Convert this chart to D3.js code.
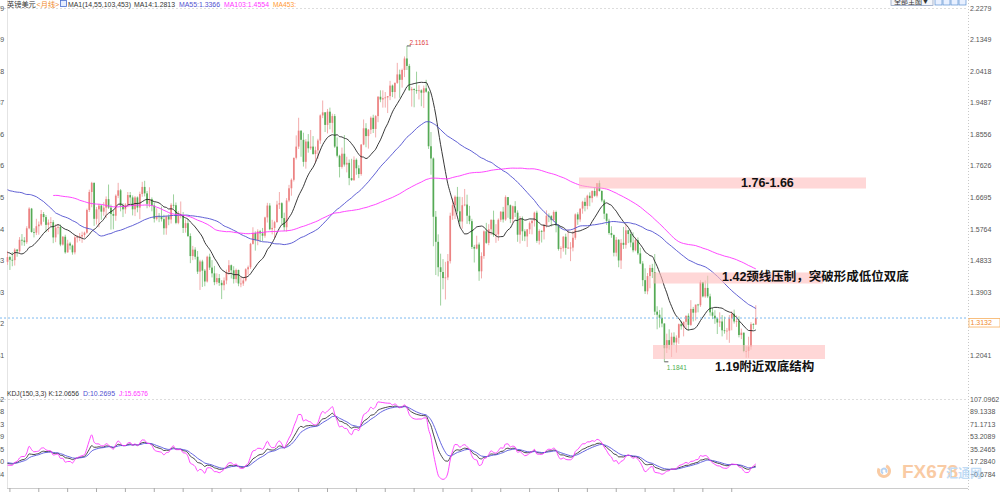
<!DOCTYPE html>
<html><head><meta charset="utf-8">
<script src="https://cdn.jsdelivr.net/npm/d3@7"></script>
<style>body{margin:0;background:#fff;}svg{display:block;}</style>
</head><body>
<svg id="c" width="1000" height="492"></svg>
<script>
// ---------- DATA (GBP/USD monthly, Jan 1994 - Dec 2019) ----------
const years = [1994,1995,1996,1997,1998,1999,2000,2001,2002,2003,2004,2005,2006,2007,2008,2009,2010,2011,2012,2013,2014,2015,2016,2017,2018,2019];
const opens = [
1.479,1.493,1.485,1.484,1.515,1.510,1.544,1.542,1.537,1.578,1.636,1.567,
1.565,1.584,1.589,1.620,1.611,1.588,1.595,1.596,1.551,1.580,1.582,1.530,
1.553,1.507,1.533,1.527,1.507,1.551,1.552,1.554,1.558,1.565,1.632,1.685,
1.712,1.606,1.634,1.645,1.627,1.639,1.664,1.639,1.620,1.615,1.674,1.690,
1.645,1.634,1.648,1.676,1.669,1.634,1.669,1.639,1.679,1.700,1.681,1.650,
1.664,1.645,1.606,1.613,1.612,1.605,1.578,1.613,1.604,1.647,1.646,1.594,
1.615,1.616,1.579,1.593,1.555,1.496,1.515,1.494,1.450,1.480,1.453,1.421,
1.494,1.462,1.445,1.419,1.431,1.417,1.410,1.424,1.449,1.469,1.454,1.428,
1.455,1.415,1.415,1.424,1.457,1.463,1.532,1.564,1.543,1.569,1.563,1.556,
1.610,1.645,1.575,1.579,1.596,1.648,1.652,1.608,1.581,1.660,1.696,1.721,
1.786,1.819,1.866,1.839,1.774,1.834,1.814,1.819,1.797,1.808,1.837,1.911,
1.920,1.883,1.922,1.889,1.909,1.819,1.792,1.759,1.798,1.766,1.771,1.726,
1.720,1.780,1.755,1.738,1.825,1.873,1.850,1.869,1.904,1.871,1.909,1.966,
1.958,1.962,1.964,1.968,1.999,1.980,2.007,2.032,2.016,2.045,2.079,2.057,
1.985,1.989,1.986,1.984,1.985,1.978,1.991,1.981,1.820,1.784,1.612,1.538,
1.463,1.449,1.431,1.433,1.481,1.615,1.646,1.671,1.628,1.598,1.646,1.648,
1.615,1.599,1.523,1.518,1.530,1.451,1.496,1.569,1.535,1.575,1.603,1.558,
1.560,1.603,1.627,1.604,1.670,1.646,1.605,1.643,1.624,1.559,1.607,1.569,
1.554,1.575,1.593,1.600,1.624,1.541,1.570,1.568,1.588,1.615,1.614,1.602,
1.626,1.586,1.517,1.519,1.553,1.520,1.521,1.521,1.550,1.619,1.604,1.636,
1.656,1.644,1.674,1.667,1.688,1.674,1.711,1.688,1.660,1.621,1.600,1.564,
1.558,1.506,1.544,1.483,1.535,1.529,1.572,1.561,1.536,1.513,1.543,1.504,
1.474,1.425,1.392,1.437,1.461,1.449,1.332,1.323,1.314,1.297,1.224,1.248,
1.234,1.258,1.241,1.255,1.295,1.289,1.302,1.320,1.293,1.340,1.329,1.353,
1.351,1.419,1.377,1.402,1.377,1.330,1.320,1.312,1.300,1.303,1.277,1.275,
1.276,1.312,1.326,1.303,1.304,1.263,1.270,1.216,1.216,1.229,1.295,1.294];
const highs = [
1.511,1.497,1.508,1.519,1.517,1.552,1.561,1.552,1.584,1.640,1.638,1.578,
1.606,1.598,1.632,1.626,1.617,1.604,1.611,1.602,1.590,1.590,1.589,1.555,
1.559,1.544,1.538,1.530,1.557,1.558,1.564,1.568,1.568,1.636,1.692,1.715,
1.713,1.641,1.650,1.647,1.655,1.672,1.707,1.648,1.632,1.678,1.712,1.694,
1.652,1.652,1.685,1.685,1.675,1.673,1.672,1.686,1.715,1.718,1.688,1.699,
1.669,1.654,1.637,1.623,1.642,1.618,1.615,1.619,1.652,1.678,1.654,1.629,
1.657,1.626,1.604,1.605,1.563,1.526,1.522,1.511,1.485,1.485,1.458,1.497,
1.503,1.484,1.467,1.445,1.443,1.425,1.433,1.456,1.484,1.471,1.466,1.459,
1.456,1.434,1.434,1.460,1.468,1.535,1.581,1.569,1.575,1.573,1.579,1.612,
1.653,1.652,1.603,1.600,1.659,1.685,1.655,1.624,1.667,1.706,1.725,1.786,
1.852,1.904,1.867,1.860,1.841,1.856,1.868,1.850,1.819,1.842,1.914,1.955,
1.921,1.930,1.934,1.916,1.915,1.846,1.795,1.816,1.853,1.789,1.781,1.783,
1.790,1.784,1.764,1.826,1.899,1.888,1.871,1.908,1.913,1.912,1.968,1.985,
1.985,1.980,1.968,2.013,2.002,2.008,2.066,2.046,2.049,2.085,2.116,2.063,
1.995,1.991,2.040,2.000,1.988,1.999,2.016,1.983,1.862,1.787,1.629,1.560,
1.503,1.487,1.479,1.502,1.624,1.666,1.675,1.700,1.671,1.670,1.694,1.677,
1.644,1.606,1.529,1.556,1.536,1.507,1.572,1.594,1.590,1.604,1.630,1.590,
1.607,1.628,1.641,1.675,1.670,1.648,1.645,1.658,1.631,1.614,1.613,1.575,
1.575,1.598,1.603,1.627,1.630,1.575,1.573,1.590,1.631,1.622,1.617,1.631,
1.630,1.590,1.525,1.555,1.562,1.575,1.537,1.570,1.622,1.625,1.636,1.659,
1.668,1.677,1.684,1.690,1.700,1.711,1.719,1.690,1.664,1.622,1.606,1.584,
1.560,1.552,1.546,1.546,1.582,1.590,1.574,1.574,1.566,1.551,1.551,1.521,
1.481,1.460,1.446,1.470,1.473,1.502,1.348,1.337,1.344,1.298,1.267,1.280,
1.270,1.271,1.262,1.297,1.305,1.303,1.320,1.327,1.366,1.346,1.352,1.355,
1.425,1.420,1.424,1.438,1.385,1.343,1.336,1.314,1.330,1.322,1.317,1.284,
1.322,1.333,1.338,1.321,1.318,1.282,1.270,1.230,1.258,1.301,1.298,1.351];
const lows = [
1.470,1.455,1.466,1.468,1.494,1.505,1.527,1.526,1.532,1.575,1.565,1.551,
1.558,1.559,1.585,1.597,1.566,1.567,1.584,1.534,1.537,1.560,1.525,1.527,
1.503,1.506,1.515,1.500,1.501,1.536,1.540,1.535,1.550,1.562,1.626,1.640,
1.585,1.589,1.581,1.603,1.615,1.608,1.635,1.574,1.575,1.600,1.667,1.628,
1.611,1.621,1.640,1.652,1.616,1.614,1.625,1.605,1.671,1.672,1.637,1.640,
1.628,1.595,1.601,1.596,1.598,1.559,1.559,1.587,1.592,1.636,1.590,1.590,
1.607,1.564,1.565,1.552,1.475,1.484,1.486,1.443,1.396,1.405,1.407,1.418,
1.455,1.433,1.410,1.413,1.408,1.369,1.395,1.413,1.440,1.430,1.415,1.417,
1.407,1.404,1.408,1.421,1.441,1.458,1.530,1.512,1.528,1.537,1.540,1.550,
1.595,1.572,1.560,1.548,1.595,1.635,1.589,1.570,1.568,1.655,1.674,1.716,
1.781,1.812,1.789,1.760,1.754,1.801,1.809,1.795,1.770,1.783,1.827,1.903,
1.862,1.858,1.870,1.860,1.815,1.787,1.728,1.754,1.760,1.743,1.705,1.718,
1.718,1.736,1.726,1.733,1.823,1.817,1.813,1.856,1.859,1.846,1.891,1.950,
1.934,1.934,1.918,1.956,1.965,1.961,2.004,1.963,1.993,2.024,2.045,1.984,
1.937,1.935,1.975,1.958,1.938,1.933,1.978,1.812,1.736,1.525,1.440,1.436,
1.350,1.398,1.368,1.425,1.474,1.603,1.605,1.621,1.583,1.577,1.643,1.591,
1.590,1.517,1.477,1.516,1.423,1.430,1.488,1.532,1.528,1.558,1.553,1.535,
1.541,1.597,1.595,1.600,1.609,1.593,1.594,1.611,1.538,1.533,1.541,1.540,
1.523,1.561,1.560,1.583,1.535,1.530,1.536,1.545,1.580,1.596,1.583,1.598,
1.566,1.512,1.489,1.509,1.500,1.517,1.481,1.510,1.544,1.588,1.597,1.621,
1.628,1.634,1.643,1.654,1.671,1.669,1.686,1.655,1.605,1.588,1.559,1.550,
1.495,1.495,1.463,1.458,1.517,1.518,1.534,1.522,1.507,1.510,1.499,1.472,
1.407,1.384,1.383,1.401,1.431,1.322,1.280,1.285,1.286,1.184,1.210,1.220,
1.198,1.233,1.211,1.237,1.279,1.259,1.281,1.276,1.290,1.303,1.306,1.330,
1.346,1.374,1.373,1.372,1.320,1.310,1.296,1.266,1.287,1.259,1.267,1.249,
1.240,1.277,1.297,1.287,1.256,1.251,1.212,1.196,1.196,1.220,1.280,1.293];
const closes = [
1.493,1.485,1.484,1.515,1.510,1.544,1.542,1.537,1.578,1.636,1.567,1.565,
1.584,1.589,1.620,1.611,1.588,1.595,1.596,1.551,1.580,1.582,1.530,1.553,
1.507,1.533,1.527,1.507,1.551,1.552,1.554,1.558,1.565,1.632,1.685,1.712,
1.606,1.634,1.645,1.627,1.639,1.664,1.639,1.620,1.615,1.674,1.690,1.645,
1.634,1.648,1.676,1.669,1.634,1.669,1.639,1.679,1.700,1.681,1.650,1.664,
1.645,1.606,1.613,1.612,1.605,1.578,1.613,1.604,1.647,1.646,1.594,1.615,
1.616,1.579,1.593,1.555,1.496,1.515,1.494,1.450,1.480,1.453,1.421,1.494,
1.462,1.445,1.419,1.431,1.417,1.410,1.424,1.449,1.469,1.454,1.428,1.455,
1.415,1.415,1.424,1.457,1.463,1.532,1.564,1.543,1.569,1.563,1.556,1.610,
1.645,1.575,1.579,1.596,1.648,1.652,1.608,1.581,1.660,1.696,1.721,1.786,
1.819,1.866,1.839,1.774,1.834,1.814,1.819,1.797,1.808,1.837,1.911,1.920,
1.883,1.922,1.889,1.909,1.819,1.792,1.759,1.798,1.766,1.771,1.726,1.720,
1.780,1.755,1.738,1.825,1.873,1.850,1.869,1.904,1.871,1.909,1.966,1.958,
1.962,1.964,1.968,1.999,1.980,2.007,2.032,2.016,2.045,2.079,2.057,1.985,
1.989,1.986,1.984,1.985,1.978,1.991,1.981,1.820,1.784,1.612,1.538,1.463,
1.449,1.431,1.433,1.481,1.615,1.646,1.671,1.628,1.598,1.646,1.648,1.615,
1.599,1.523,1.518,1.530,1.451,1.496,1.569,1.535,1.575,1.603,1.558,1.560,
1.603,1.627,1.604,1.670,1.646,1.605,1.643,1.624,1.559,1.607,1.569,1.554,
1.575,1.593,1.600,1.624,1.541,1.570,1.568,1.588,1.615,1.614,1.602,1.626,
1.586,1.517,1.519,1.553,1.520,1.521,1.521,1.550,1.619,1.604,1.636,1.656,
1.644,1.674,1.667,1.688,1.674,1.711,1.688,1.660,1.621,1.600,1.564,1.558,
1.506,1.544,1.483,1.535,1.529,1.572,1.561,1.536,1.513,1.543,1.504,1.474,
1.425,1.392,1.437,1.461,1.449,1.332,1.323,1.314,1.297,1.224,1.248,1.234,
1.258,1.241,1.255,1.295,1.289,1.302,1.320,1.293,1.340,1.329,1.353,1.351,
1.419,1.377,1.402,1.377,1.330,1.320,1.312,1.300,1.303,1.277,1.275,1.276,
1.312,1.326,1.303,1.304,1.263,1.270,1.216,1.216,1.229,1.295,1.294,1.313];
// history before the visible window (Feb 1987 - Dec 1993), used by MA / KDJ
const preHighs = [
1.545,1.615,1.680,1.690,1.665,1.643,1.648,1.660,1.760,1.820,1.890,
1.885,1.790,1.885,1.895,1.890,1.850,1.735,1.740,1.715,1.775,1.850,1.860,
1.815,1.775,1.760,1.720,1.700,1.600,1.680,1.665,1.625,1.615,1.590,1.620,
1.700,1.720,1.710,1.660,1.705,1.745,1.855,1.940,1.915,1.960,1.965,1.950,
1.980,2.010,1.975,1.790,1.760,1.740,1.695,1.735,1.760,1.755,1.785,1.875,
1.870,1.800,1.770,1.785,1.835,1.905,1.925,2.000,2.010,1.780,1.590,1.565,
1.570,1.545,1.520,1.590,1.590,1.565,1.535,1.515,1.555,1.530,1.505,1.500];
const preLows = [
1.505,1.535,1.600,1.635,1.600,1.585,1.590,1.610,1.625,1.735,1.780,
1.755,1.740,1.765,1.855,1.830,1.695,1.690,1.665,1.655,1.685,1.765,1.800,
1.735,1.725,1.685,1.680,1.545,1.510,1.550,1.535,1.540,1.545,1.550,1.555,
1.600,1.665,1.575,1.620,1.635,1.690,1.735,1.840,1.845,1.865,1.920,1.900,
1.920,1.930,1.740,1.720,1.710,1.610,1.600,1.660,1.700,1.690,1.715,1.775,
1.775,1.735,1.700,1.720,1.775,1.820,1.885,1.910,1.720,1.570,1.500,1.510,
1.500,1.405,1.420,1.500,1.520,1.480,1.470,1.460,1.495,1.475,1.470,1.470];
const preCloses = [
1.540,1.608,1.672,1.660,1.608,1.600,1.643,1.650,1.750,1.800,1.880,
1.780,1.770,1.880,1.880,1.840,1.710,1.710,1.680,1.690,1.770,1.840,1.810,
1.750,1.740,1.690,1.690,1.550,1.555,1.660,1.550,1.610,1.570,1.570,1.610,
1.695,1.700,1.640,1.640,1.700,1.740,1.850,1.890,1.870,1.950,1.940,1.930,
1.960,1.970,1.760,1.730,1.730,1.620,1.680,1.720,1.750,1.720,1.780,1.870,
1.780,1.750,1.730,1.780,1.830,1.900,1.920,1.990,1.770,1.580,1.520,1.510,
1.540,1.440,1.510,1.580,1.560,1.490,1.490,1.500,1.530,1.490,1.480,1.479];
const maPeriods = [14, 55, 103];
const maColors = ["#222222", "#4f4fcf", "#ff33ff"];
const kdjN = 150;
const priceTicks = [2.2279,2.1349,2.0418,1.9487,1.8556,1.7626,1.6695,1.5764,1.4833,1.3903,1.2972,1.2041];
const kdjTicks = [107.0962,89.1338,71.1713,53.2089,35.2465,17.2840,-0.6784];
const lastPrice = 1.3132;
const peakHigh = 2.1161, troughLow = 1.1841;

// ---------- BUILD ----------
const months = [];
years.forEach(y => { for (let m = 1; m <= 12; m++) months.push(y + "-" + (m < 10 ? "0" + m : m)); });
const candles = months.map((m, i) => ({m, i, o: opens[i], h: highs[i], l: lows[i], c: closes[i]}));
const pre = preCloses.length;
const allC = preCloses.concat(closes), allH = preHighs.concat(highs), allL = preLows.concat(lows);

function ma(n) {
  return candles.map((d, i) => {
    const t = pre + i;
    if (t < n - 1) return {m: d.m, v: null};
    return {m: d.m, v: d3.mean(allC.slice(t - n + 1, t + 1))};
  });
}
// KDJ(150,3,3)
const kdj = [];
let K = 50, D = 50;
for (let t = 0; t < allC.length; t++) {
  const s = Math.max(0, t - kdjN + 1);
  const hh = d3.max(allH.slice(s, t + 1)), ll = d3.min(allL.slice(s, t + 1));
  const rsv = hh === ll ? 50 : (allC[t] - ll) / (hh - ll) * 100;
  K = (2 * K + rsv) / 3; D = (2 * D + K) / 3;
  if (t >= pre) kdj.push({m: months[t - pre], k: K, d: D, j: 3 * K - 2 * D});
}

const svg = d3.select("#c");
const FONT = "'Liberation Sans','Noto Sans CJK SC',sans-serif";
const x = d3.scalePoint().domain(months).range([6.3, 757]).padding(0.5);
const y = d3.scaleLinear().domain([1.2041, 2.2279]).range([355, 8]);
const yk = d3.scaleLinear().domain([-0.6784, 107.0962]).range([474, 399]);

// frame lines
svg.append("line").attr("x1", 7.5).attr("x2", 7.5).attr("y1", 0).attr("y2", 488).attr("stroke", "#e4e4e4");
svg.append("line").attr("x1", 968.5).attr("x2", 968.5).attr("y1", 0).attr("y2", 492).attr("stroke", "#c8c8c8").attr("stroke-dasharray", "1,2");
svg.append("line").attr("x1", 0).attr("x2", 968).attr("y1", 8.5).attr("y2", 8.5).attr("stroke", "#dddddd").attr("stroke-dasharray", "2,2");
svg.append("line").attr("x1", 0).attr("x2", 968).attr("y1", 399.5).attr("y2", 399.5).attr("stroke", "#dddddd").attr("stroke-dasharray", "2,2");
svg.append("line").attr("x1", 7).attr("x2", 968).attr("y1", 488.5).attr("y2", 488.5).attr("stroke", "#cccccc");
svg.selectAll("line.yt").data(months.filter((m, i) => i % 12 === 1)).enter().append("line")
  .attr("x1", d => x(d)).attr("x2", d => x(d)).attr("y1", 488).attr("y2", 492).attr("stroke", "#aaaaaa");

// candles
const cg = svg.append("g");
const up = d => d.c >= d.o;
cg.selectAll("line.w").data(candles).enter().append("line")
  .attr("x1", d => x(d.m)).attr("x2", d => x(d.m))
  .attr("y1", d => y(d.h)).attr("y2", d => y(d.l))
  .attr("stroke", d => up(d) ? "#f2a4a4" : "#92cc92").attr("stroke-width", 0.9);
cg.selectAll("rect.b").data(candles).enter().append("rect")
  .attr("x", d => x(d.m) - 0.85).attr("width", 1.7)
  .attr("y", d => y(Math.max(d.o, d.c)))
  .attr("height", d => Math.max(0.8, Math.abs(y(d.o) - y(d.c))))
  .attr("fill", d => up(d) ? "#ec8383" : "#55aa55");

// moving averages
maPeriods.forEach((n, k) => {
  const line = d3.line().defined(d => d.v !== null).x(d => x(d.m)).y(d => y(d.v)).curve(d3.curveMonotoneX);
  svg.append("path").datum(ma(n)).attr("d", line).attr("fill", "none")
    .attr("stroke", maColors[k]).attr("stroke-width", 0.9);
});

// KDJ lines
[["k", "#333333"], ["d", "#5555dd"], ["j", "#ff33ff"]].forEach(([key, col]) => {
  const line = d3.line().x(d => x(d.m)).y(d => yk(d[key])).curve(d3.curveMonotoneX);
  svg.append("path").datum(kdj).attr("d", line).attr("fill", "none").attr("stroke", col).attr("stroke-width", 0.9);
});

// annotation bands
const bands = [[579, 177.5, 287, 11], [653, 272.5, 170, 11], [653, 345, 172, 14]];
svg.selectAll("rect.band").data(bands).enter().append("rect")
  .attr("x", d => d[0]).attr("y", d => d[1]).attr("width", d => d[2]).attr("height", d => d[3])
  .attr("fill", "#ffbdbd").attr("opacity", 0.6);
const notes = [["1.76-1.66", 741, 186.5], ["1.42颈线压制，突破形成低位双底", 722, 280.5], ["1.19附近双底结构", 715, 370.5]];
svg.selectAll("text.note").data(notes).enter().append("text")
  .attr("x", d => d[1]).attr("y", d => d[2]).text(d => d[0])
  .attr("font-family", FONT).attr("font-weight", "bold").attr("font-size", 12.5).attr("fill", "#111");

// current price line
svg.append("line").attr("x1", 0).attr("x2", 968).attr("y1", y(lastPrice)).attr("y2", y(lastPrice))
  .attr("stroke", "#7db9ef").attr("stroke-dasharray", "2,2");

// axes (left-hand labels are clipped by the page edge, as in the original)
const axStyle = g => { g.select(".domain").remove(); g.selectAll("text").attr("font-family", FONT).attr("font-size", 7).attr("fill", "#555"); };
svg.append("g").attr("transform", "translate(970,0)")
  .call(d3.axisRight(y).tickValues(priceTicks).tickSize(0).tickPadding(0).tickFormat(d3.format(".4f"))).call(axStyle);
svg.append("g").attr("transform", "translate(4.2,0)")
  .call(d3.axisLeft(y).tickValues(priceTicks).tickSize(0).tickPadding(0).tickFormat(d3.format(".4f"))).call(axStyle);
svg.append("g").attr("transform", "translate(970,0)")
  .call(d3.axisRight(yk).tickValues(kdjTicks).tickSize(0).tickPadding(0).tickFormat(d3.format(".4f"))).call(axStyle);
svg.append("g").attr("transform", "translate(4.2,0)")
  .call(d3.axisLeft(yk).tickValues(kdjTicks).tickSize(0).tickPadding(0).tickFormat(d3.format(".4f"))).call(axStyle);

// last price box
svg.append("rect").attr("x", 969).attr("y", y(lastPrice) + 0.5).attr("width", 31).attr("height", 8.5)
  .attr("fill", "#fff").attr("stroke", "#f7b060").attr("stroke-width", 0.8);
svg.append("text").attr("x", 970.5).attr("y", y(lastPrice) + 7.3).text(lastPrice.toFixed(4))
  .attr("font-family", FONT).attr("font-size", 7).attr("fill", "#f08a2a");

// extreme labels
const iPeak = highs.indexOf(d3.max(highs)), iLow = lows.indexOf(d3.min(lows));
svg.append("line").attr("x1", x(months[iPeak])).attr("x2", x(months[iPeak]) + 4).attr("y1", y(highs[iPeak])).attr("y2", y(highs[iPeak])).attr("stroke", "#333").attr("stroke-width", 0.8);
svg.append("text").attr("x", x(months[iPeak]) + 2.5).attr("y", y(highs[iPeak]) - 1).text(peakHigh.toFixed(4))
  .attr("font-family", FONT).attr("font-size", 6.5).attr("fill", "#e04040");
svg.append("line").attr("x1", x(months[iLow])).attr("x2", x(months[iLow]) + 4).attr("y1", y(lows[iLow])).attr("y2", y(lows[iLow])).attr("stroke", "#333").attr("stroke-width", 0.8);
svg.append("text").attr("x", x(months[iLow]) + 2.5).attr("y", y(lows[iLow]) + 8).text(troughLow.toFixed(4))
  .attr("font-family", FONT).attr("font-size", 6.5).attr("fill", "#4caf50");

// legends (widths matched to the original)
const leg = (txt, xx, yy, col, w) => {
  const t = svg.append("text").attr("x", xx).attr("y", yy).text(txt)
    .attr("font-family", FONT).attr("font-size", 7.2).attr("fill", col);
  if (w) t.attr("textLength", w).attr("lengthAdjust", "spacingAndGlyphs");
  return t;
};
leg("英镑美元", 7, 6.5, "#333");
leg("<月线>", 36.5, 6.5, "#f08a2a");
svg.append("rect").attr("x", 60.5).attr("y", 0.5).attr("width", 6).attr("height", 6).attr("fill", "#e6eeff").attr("stroke", "#4a6fd0").attr("stroke-width", 0.8);
leg("MA1(14,55,103,453)", 68, 6.5, "#333", 63);
leg("MA14:1.2813", 134, 6.5, "#333", 41);
leg("MA55:1.3366", 179, 6.5, "#4f4fcf", 41);
leg("MA103:1.4554", 224, 6.5, "#ff33ff", 45);
leg("MA453:", 273, 6.5, "#ff9933", 23);
leg("KDJ(150,3,3) K:12.0656", 7, 395.5, "#333", 72);
leg("D:10.2695", 83, 395.5, "#4f4fcf", 32);
leg("J:15.6576", 119, 395.5, "#ff33ff", 29);

// top-right buttons
svg.append("rect").attr("x", 891).attr("y", -5).attr("width", 42).attr("height", 10.5).attr("fill", "#f4f6fa").attr("stroke", "#8899bb").attr("stroke-width", 0.7);
svg.append("text").attr("x", 894).attr("y", 4).text("全部主图▼").attr("font-family", FONT).attr("font-size", 7).attr("fill", "#333");
[935, 943, 951, 959].forEach(bx => {
  svg.append("rect").attr("x", bx).attr("y", -3).attr("width", 7).attr("height", 8).attr("fill", "#e8f0ff").attr("stroke", "#5b8fd0").attr("stroke-width", 0.7);
});

// watermark logo
const lg = svg.append("g").attr("opacity", 0.55);
lg.append("path").attr("d", d3.arc()({innerRadius: 4, outerRadius: 7, startAngle: 0.4, endAngle: 5.2})).attr("transform", "translate(884,471)").attr("fill", "#f5a25a");
lg.append("path").attr("d", d3.arc()({innerRadius: 1.5, outerRadius: 3.5, startAngle: 3.5, endAngle: 8.5})).attr("transform", "translate(884,471)").attr("fill", "#7fb0e8");
lg.append("text").attr("x", 902).attr("y", 478).text("FX678").attr("font-family", FONT).attr("font-weight", "bold").attr("font-size", 19).attr("fill", "#f5a25a");
lg.append("text").attr("x", 946).attr("y", 478).text("汇通网").attr("font-family", "'Noto Sans CJK SC',sans-serif").attr("font-weight", "bold").attr("font-size", 12).attr("fill", "#8fc0ee");
</script>
</body></html>
